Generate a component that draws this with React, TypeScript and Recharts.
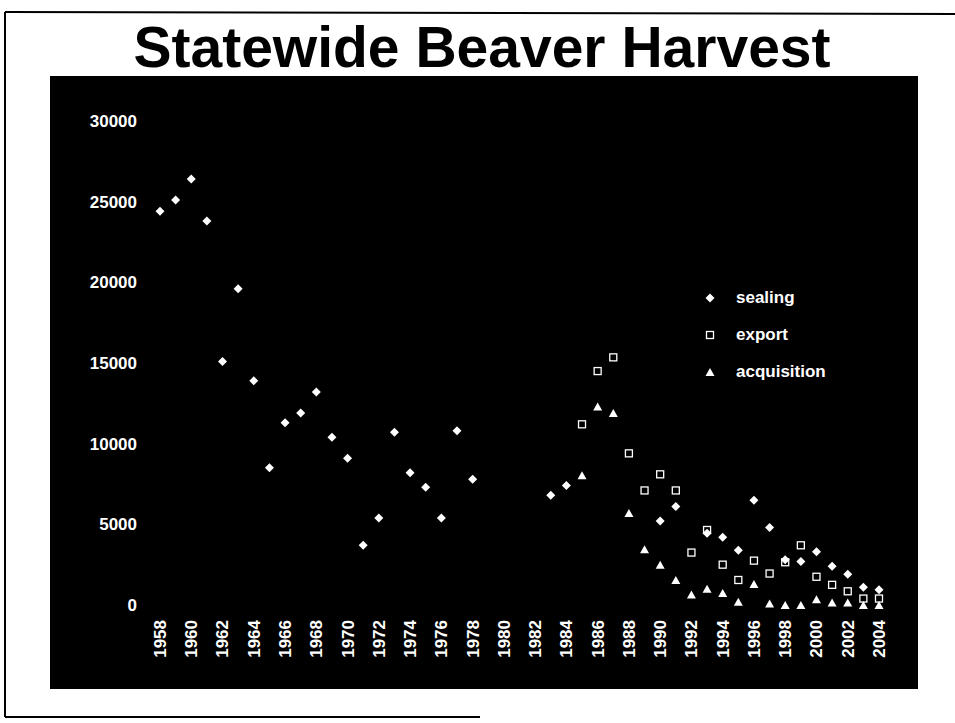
import { ScatterChart, Scatter, XAxis, YAxis } from 'recharts';

const FONT = '"Liberation Sans", Arial, sans-serif';

const sealingYears = [
  1958, 1959, 1960, 1961, 1962, 1963, 1964, 1965, 1966, 1967, 1968, 1969, 1970,
  1971, 1972, 1973, 1974, 1975, 1976, 1977, 1978, 1983, 1984, 1990, 1991, 1993,
  1994, 1995, 1996, 1997, 1998, 1999, 2000, 2001, 2002, 2003, 2004,
];
const sealingValues = [
  24400, 25100, 26400, 23800, 15100, 19600, 13900, 8500, 11300, 11900, 13200, 10400, 9100,
  3700, 5400, 10700, 8200, 7300, 5400, 10800, 7800, 6800, 7400, 5200, 6100, 4450,
  4200, 3400, 6500, 4800, 2800, 2700, 3300, 2400, 1900, 1100, 950,
];

const laterYears = [
  1985, 1986, 1987, 1988, 1989, 1990, 1991, 1992, 1993, 1994,
  1995, 1996, 1997, 1998, 1999, 2000, 2001, 2002, 2003, 2004,
];
const exportValues = [
  11200, 14500, 15350, 9400, 7100, 8100, 7100, 3250, 4650, 2500,
  1550, 2750, 1950, 2650, 3700, 1750, 1250, 850, 400, 400,
];
const acquisitionValues = [
  8050, 12300, 11900, 5700, 3450, 2500, 1550, 650, 1000, 750,
  200, 1300, 100, 0, 0, 350, 150, 150, 0, 0,
];

const yearTicks = [
  1958, 1960, 1962, 1964, 1966, 1968, 1970, 1972, 1974, 1976, 1978, 1980,
  1982, 1984, 1986, 1988, 1990, 1992, 1994, 1996, 1998, 2000, 2002, 2004,
];
const valueTicks = [0, 5000, 10000, 15000, 20000, 25000, 30000];

const toPoints = (years: number[], values: number[]) =>
  years.map((year, i) => ({ year, value: values[i] }));

const sealing = toPoints(sealingYears, sealingValues);
const exported = toPoints(laterYears, exportValues);
const acquisition = toPoints(laterYears, acquisitionValues);

const Diamond = ({ cx, cy }: any) => (
  <polygon points={`${cx},${cy - 4.5} ${cx + 4.5},${cy} ${cx},${cy + 4.5} ${cx - 4.5},${cy}`} fill="#fff" />
);
const OpenSquare = ({ cx, cy }: any) => (
  <rect x={cx - 3.5} y={cy - 3.5} width={7} height={7} fill="none" stroke="#fff" strokeWidth={1.3} />
);
const Triangle = ({ cx, cy }: any) => (
  <polygon points={`${cx},${cy - 4} ${cx + 4.5},${cy + 4} ${cx - 4.5},${cy + 4}`} fill="#fff" />
);

const YearTick = ({ x, y, payload }: any) => (
  <g transform={`translate(${x},${y})`}>
    <text transform="rotate(-90)" textAnchor="end" dy="0.35em" fill="#fff" fontSize={17} fontWeight="bold" fontFamily={FONT}>
      {payload.value}
    </text>
  </g>
);

const legendItems = [
  { name: 'sealing', Icon: Diamond },
  { name: 'export', Icon: OpenSquare },
  { name: 'acquisition', Icon: Triangle },
];

export default function App() {
  return (
    <div style={{ position: 'absolute', left: 0, top: 0, width: 955, height: 723, background: '#fff', overflow: 'hidden', fontFamily: FONT }}>
      <svg width={955} height={723} style={{ position: 'absolute', left: 0, top: 0 }}>
        <line x1={5} y1={12} x2={955} y2={14} stroke="#000" strokeWidth={2} />
        <line x1={5} y1={12} x2={5} y2={717} stroke="#000" strokeWidth={2} />
        <line x1={5} y1={717} x2={480} y2={717} stroke="#000" strokeWidth={2} />
        <text x={482} y={67} textAnchor="middle" fontSize={57} fontWeight="bold" fill="#000" fontFamily={FONT}>
          Statewide Beaver Harvest
        </text>
      </svg>
      <div style={{ position: 'absolute', left: 50, top: 76, width: 868, height: 613, background: '#000' }}>
        <ScatterChart width={868} height={613} margin={{ top: 45, right: 39, bottom: 0, left: 0 }}>
          <XAxis
            type="number"
            dataKey="year"
            domain={[1958, 2004]}
            ticks={yearTicks}
            interval={0}
            height={84}
            axisLine={false}
            tickLine={false}
            tickSize={0}
            tickMargin={15}
            tick={<YearTick />}
          />
          <YAxis
            type="number"
            dataKey="value"
            domain={[0, 30000]}
            ticks={valueTicks}
            width={110}
            axisLine={false}
            tickLine={false}
            tickSize={0}
            tickMargin={23}
            tick={{ fill: '#fff', fontSize: 17, fontWeight: 'bold', fontFamily: FONT }}
          />
          <Scatter name="sealing" data={sealing} shape={<Diamond />} isAnimationActive={false} />
          <Scatter name="export" data={exported} shape={<OpenSquare />} isAnimationActive={false} />
          <Scatter name="acquisition" data={acquisition} shape={<Triangle />} isAnimationActive={false} />
        </ScatterChart>
        <div style={{ position: 'absolute', left: 650, top: 203 }}>
          {legendItems.map(({ name, Icon }) => (
            <div key={name} style={{ display: 'flex', alignItems: 'center', height: 37 }}>
              <svg width={20} height={20} style={{ marginRight: 16 }}>
                <Icon cx={10} cy={10} />
              </svg>
              <span style={{ color: '#fff', fontSize: 17, fontWeight: 'bold' }}>{name}</span>
            </div>
          ))}
        </div>
      </div>
    </div>
  );
}
